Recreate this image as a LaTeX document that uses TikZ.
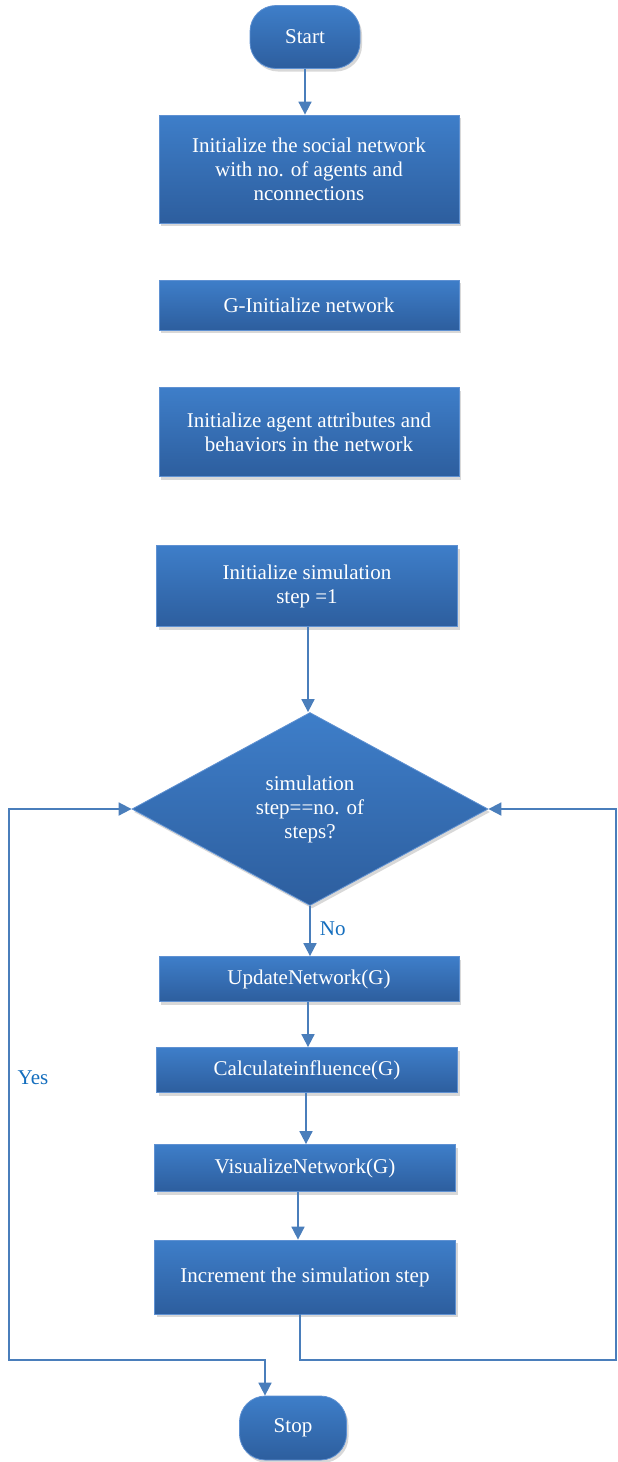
\documentclass[tikz,border=0pt]{standalone}
\usepackage{fontspec}
\setmainfont{Liberation Serif}
\usetikzlibrary{shapes.geometric,arrows.meta,shadows,calc}
\definecolor{fillTop}{RGB}{62,126,201}
\definecolor{fillBot}{RGB}{45,94,158}
\definecolor{edgeCol}{RGB}{95,145,210}
\definecolor{connCol}{RGB}{74,126,187}
\definecolor{lblCol}{RGB}{20,110,190}
\begin{document}
\begin{tikzpicture}[x=1pt,y=-1pt,
  ctip/.tip={Triangle[width=13pt,length=13pt]},
  blk/.style={draw=edgeCol, line width=0.8pt, top color=fillTop, bottom color=fillBot,
    text=white, font=\fontsize{21}{24}\selectfont, align=center, inner sep=0pt,
    drop shadow={shadow xshift=2pt, shadow yshift=-3pt, opacity=0.3}},
  procbox/.style={blk, rectangle, minimum width=300pt},
  term/.style={blk, rectangle, rounded corners=26pt},
  decision/.style={blk, diamond, aspect=1.84, minimum width=356pt, minimum height=193pt},
  conn/.style={draw=connCol, line width=1.8pt, -ctip},
  lbl/.style={text=lblCol, font=\fontsize{21}{24}\selectfont, inner sep=0pt}
]
\useasboundingbox[fill=white] (0,0) rectangle (618,1462);

\node[term, minimum width=110pt, minimum height=63pt] (start) at (305,37) {Start};
\node[procbox, minimum height=108pt] (b1) at (309,169) {Initialize the social network\\with no. of agents and\\nconnections};
\node[procbox, minimum height=50pt] (b2) at (309,305) {G-Initialize network};
\node[procbox, minimum height=89pt] (b3) at (309,432) {Initialize agent attributes and\\behaviors in the network};
\node[procbox, minimum width=301pt, minimum height=81pt] (b4) at (307,586) {Initialize simulation\\step =1};
\node[decision] (d) at (310,809) {simulation\\step==no. of\\steps?};
\node[procbox, minimum height=45pt] (b5) at (309,979) {UpdateNetwork(G)};
\node[procbox, minimum width=301pt, minimum height=45pt] (b6) at (307,1070) {Calculateinfluence(G)};
\node[procbox, minimum width=301pt, minimum height=47pt] (b7) at (305,1168) {VisualizeNetwork(G)};
\node[procbox, minimum width=301pt, minimum height=74pt] (b8) at (305,1277) {Increment the simulation step};
\node[term, minimum width=107pt, minimum height=64pt] (stop) at (293,1428) {Stop};

\coordinate (yl1) at (9,809);
\coordinate (yl2) at (9,1360);
\coordinate (yl3) at (265,1360);
\coordinate (nr1) at (300,1360);
\coordinate (nr2) at (616,1360);
\coordinate (nr3) at (616,809);
\coordinate (a4) at ($(b4.south)+(1,0)$);
\coordinate (a5) at ($(b5.south)+(-1,0)$);
\coordinate (a6) at ($(b6.south)+(-1,0)$);
\coordinate (a7) at ($(b7.south)+(-7,0)$);
\coordinate (a8) at ($(b8.south)+(-5,0)$);

\draw[conn] (start.south) -- (start.south |- b1.north);
\draw[conn] (a4) -- (a4 |- d.north);
\draw[conn] (d.south) -- (d.south |- b5.north) node[lbl, pos=0.45, right=9pt] {No};
\draw[conn] (a5) -- (a5 |- b6.north);
\draw[conn] (a6) -- (a6 |- b7.north);
\draw[conn] (a7) -- (a7 |- b8.north);
\draw[conn, ctip-ctip] (d.west) -- (yl1) -- (yl2) -- (yl3) -- (yl3 |- stop.north);
\draw[conn] (a8) -- (nr1) -- (nr2) -- (nr3) -- (d.east);
\node[lbl] (yes) at (33,1078) {Yes};
\end{tikzpicture}
\end{document}
